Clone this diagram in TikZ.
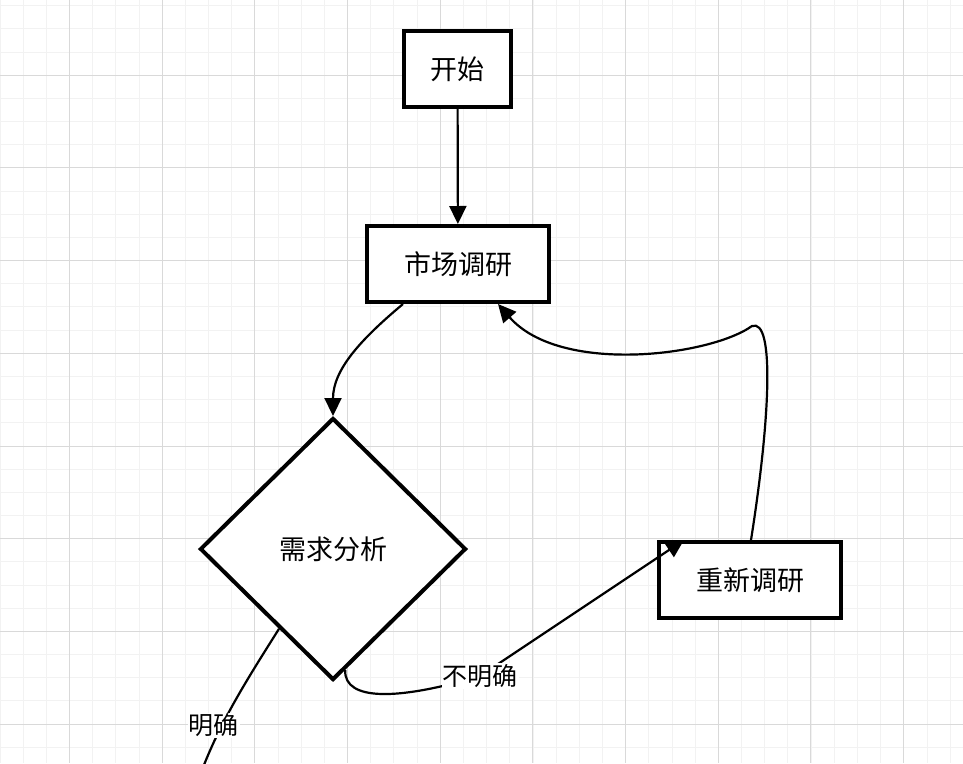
\documentclass[tikz,border=0pt]{standalone}
\usepackage{fontspec}
\newfontfamily\cjk{Noto Sans CJK SC}
\usetikzlibrary{shapes.geometric,arrows.meta,calc}
\definecolor{gridminor}{HTML}{F2F2F2}
\definecolor{gridmajor}{HTML}{D9D9D9}
\begin{document}
\begin{tikzpicture}[x=1pt,y=-1pt,
  box/.style={rectangle,draw,line width=4pt,fill=white,minimum width=182pt,minimum height=76pt,inner sep=0pt,font=\cjk\fontsize{27}{32}\selectfont},
  decision/.style={diamond,draw,line width=4pt,fill=white,minimum width=266pt,minimum height=262pt,inner sep=0pt,aspect=1,font=\cjk\fontsize{27}{32}\selectfont},
  flow/.style={line width=2.2pt,-{Triangle[length=18pt,width=17pt]}},
  lbl/.style={fill=white,inner sep=1pt,font=\cjk\fontsize{25}{30}\selectfont}]
\useasboundingbox (0,0) rectangle (963,763);
\clip (0,0) rectangle (963,763);
\fill[white] (0,0) rectangle (963,763);
% grid
\foreach \i in {0,...,42} \draw[gridminor,line width=1pt] (\i*23.175,0) -- (\i*23.175,763);
\foreach \j in {0,...,33} \draw[gridminor,line width=1pt] (0,5.7+\j*23.175) -- (963,5.7+\j*23.175);
\foreach \i in {0,...,10} \draw[gridmajor,line width=1pt] (69.3+\i*92.7,0) -- (69.3+\i*92.7,763);
\foreach \j in {0,...,8} \draw[gridmajor,line width=1pt] (0,75.2+\j*92.7) -- (963,75.2+\j*92.7);

\node[box,minimum width=107pt] (start) at (457.5,69) {开始};
\node[box] (survey) at (458,264) {市场调研};
\node[decision] (analysis) at (333,549) {需求分析};
\node[box] (resurvey) at (750,580) {重新调研};
\coordinate (out) at (202,770);

\draw[flow] (start) -- (survey);
\draw[flow] ([xshift=-55pt]survey.south) .. controls (360,340) and (333,370) .. (analysis.north);
\draw[line width=2.2pt] ($(analysis.south)!0.4!(analysis.west)$) .. controls (250,675) and (222,718) .. node[lbl,pos=0.7,xshift=-8pt] {明确} (out);
\draw[flow] ($(analysis.south)!0.09!(analysis.east)$) .. controls (344,702) and (400,700) .. (480,676) node[lbl] {不明确} -- ([xshift=27pt]resurvey.north west);
\draw[flow] ([xshift=1pt]resurvey.north) .. controls (770,420) and (775,318) .. (752,326) .. controls (710,356) and (560,375) .. ([xshift=40pt]survey.south);
\end{tikzpicture}
\end{document}
